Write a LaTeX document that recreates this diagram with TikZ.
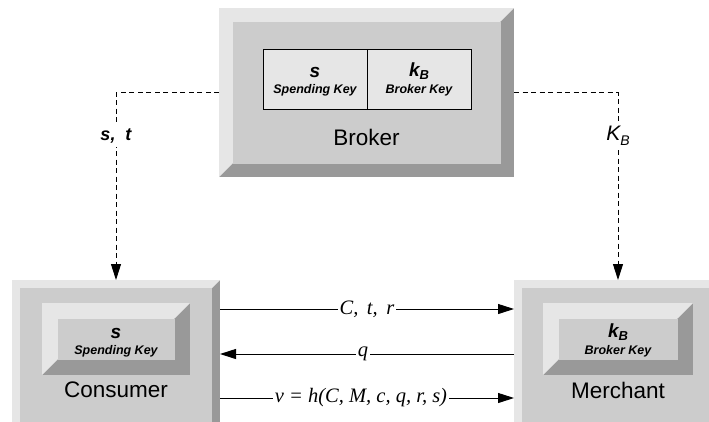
\documentclass[tikz,border=0pt]{standalone}
\usepackage{fontspec}
\setmainfont{Liberation Sans}
\newfontfamily\labelserif{Liberation Serif}
\usetikzlibrary{arrows.meta,calc}

\definecolor{bevlight}{HTML}{E6E6E6}
\definecolor{bevface}{HTML}{CCCCCC}
\definecolor{bevdark}{HTML}{999999}

\tikzset{
  % raised box: light top/left, dark right/bottom, flat face
  bevel/.style={rectangle, inner sep=0pt, outer sep=0pt, path picture={
    \fill[bevdark] (path picture bounding box.south west) rectangle (path picture bounding box.north east);
    \fill[bevlight] (path picture bounding box.north west)
      -- (path picture bounding box.north east)
      -- ([shift={(-#1pt,-#1pt)}]path picture bounding box.north east)
      -- ([shift={(#1pt,#1pt)}]path picture bounding box.south west)
      -- (path picture bounding box.south west) -- cycle;
    \fill[bevface] ([shift={(#1pt,#1pt)}]path picture bounding box.south west)
      rectangle ([shift={(-#1pt,-#1pt)}]path picture bounding box.north east);
  }},
  keycell/.style={rectangle, draw=black, line width=1pt, fill=bevlight, inner sep=0pt,
    minimum width=104pt, minimum height=60pt},
  keysym/.style={inner sep=0pt, font=\fontsize{19}{19}\selectfont\bfseries\itshape},
  keyname/.style={inner sep=0pt, font=\fontsize{12.5}{13}\selectfont\bfseries\itshape},
  partyname/.style={inner sep=0pt, font=\fontsize{22.5}{23}\selectfont},
  dashlink/.style={line width=0.9pt, dash pattern=on 5pt off 3.5pt,
    -{Triangle[length=16pt,width=10pt]}},
  msg/.style={line width=1pt, -{Triangle[length=16pt,width=10pt]}},
  msglbl/.style={midway, fill=white, inner xsep=1.5pt, inner ysep=1pt,
    font=\fontsize{20.5}{21}\selectfont\labelserif\itshape},
  keylbl/.style={fill=white, inner sep=4pt},
}

\begin{document}
\begin{tikzpicture}[x=1pt, y=-1pt]
\useasboundingbox (0,0) rectangle (709,421);
\fill[white] (0,0) rectangle (709,421);

\begin{scope}
\clip (0,0) rectangle (709,421);

% Broker with its key table
\node[bevel=13.5, minimum width=295pt, minimum height=169pt] (broker) at (366.5,92.5) {};
\node[keycell] (bskey) at (315,79) {};
\node[keycell] (bbkey) at (419,79) {};
\node[keysym] at (315,72) {s};
\node[keyname] at (315,90) {Spending Key};
\node[keysym] at (419,71) {k\raisebox{-0.35ex}{\fontsize{13}{13}\selectfont B}};
\node[keyname] at (419,90) {Broker Key};
\node[partyname] at (366.5,137) {Broker};

% Consumer
\node[bevel=8, minimum width=208pt, minimum height=170pt, anchor=north] (consumer) at (116,280) {};
\node[bevel=15.5, minimum width=148pt, minimum height=72pt] (ckey) at (116,339) {};
\node[keysym] at (116,333) {s};
\node[keyname] at (116,351) {Spending Key};
\node[partyname] at (116,390) {Consumer};

% Merchant
\node[bevel=8, minimum width=208pt, minimum height=170pt, anchor=north] (merchant) at (618,280) {};
\node[bevel=15.5, minimum width=150pt, minimum height=72pt] (mkey) at (618,339) {};
\node[keysym] at (618,332) {k\raisebox{-0.35ex}{\fontsize{13}{13}\selectfont B}};
\node[keyname] at (618,351) {Broker Key};
\node[partyname] at (618,390) {Merchant};
\end{scope}

% key distribution from the broker
\draw[dashlink] (broker.west) -- (broker.west -| consumer.north)
  -- node[pos=0.23, keylbl, font=\fontsize{18}{18}\selectfont\bfseries\itshape] {s,\ \ t} (consumer.north);
\draw[dashlink] (broker.east) -- (broker.east -| merchant.north)
  -- node[pos=0.23, keylbl, font=\fontsize{21}{21}\selectfont\itshape] {K\raisebox{-0.4ex}{\fontsize{14}{14}\selectfont B}} (merchant.north);

% payment protocol messages
\coordinate (m1) at ([yshift=-29pt]consumer.north east);
\coordinate (m2) at ([yshift=-74pt]consumer.north east);
\coordinate (m3) at ([yshift=-118pt]consumer.north east);
\draw[msg] (m1) -- node[msglbl] {C,\, t,\, r} (m1 -| merchant.west);
\draw[msg] (m2 -| merchant.west) -- node[msglbl, xshift=-4pt] {q} (m2);
\draw[msg] (m3) -- node[msglbl, xshift=-6pt] {v = h(C, M, c, q, r, s)} (m3 -| merchant.west);
\end{tikzpicture}
\end{document}
